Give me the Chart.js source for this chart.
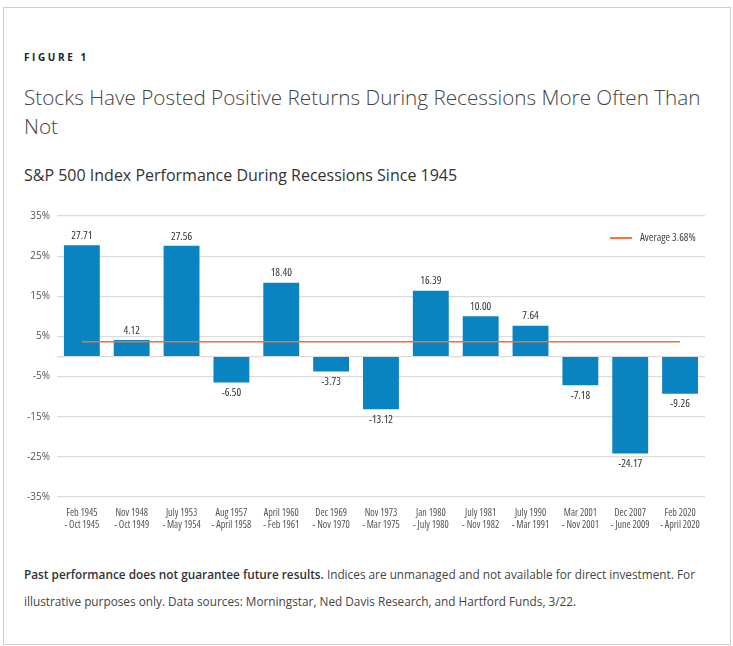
<!DOCTYPE html>
<html>
<head>
<meta charset="utf-8">
<script src="https://cdn.jsdelivr.net/npm/chart.js@4"></script>
<style>
  body { margin: 0; background: #fff; font-family: "Open Sans", sans-serif; color: #333; }
  .card { position: absolute; left: 3px; top: 7px; width: 726px; height: 636px; border: 1px solid #cfcfcf; }
  .fig { position: absolute; left: 24px; top: 50px; font-size: 10px; font-weight: 700; letter-spacing: 2.6px; color: #222; }
  .title { position: absolute; left: 24px; top: 83px; width: 692px; font-size: 20.7px; font-weight: 300; line-height: 29px; color: #444; }
  .sub { position: absolute; left: 24px; top: 164px; font-size: 16px; font-weight: 400; color: #333; }
  .chart { position: absolute; left: 20px; top: 203px; width: 685px; height: 330px; }
  .note { position: absolute; left: 24px; top: 561px; width: 695px; font-size: 11.8px; line-height: 27px; color: #444; }
  .note b { font-weight: 600; color: #333; }
</style>
</head>
<body>
<div class="card"></div>
<div class="fig">FIGURE 1</div>
<div class="title">Stocks Have Posted Positive Returns During Recessions More Often Than Not</div>
<div class="sub">S&amp;P 500 Index Performance During Recessions Since 1945</div>
<div class="chart"><canvas id="myChart"></canvas></div>
<div class="note"><b>Past performance does not guarantee future results.</b> Indices are unmanaged and not available for direct investment. For illustrative purposes only. Data sources: Morningstar, Ned Davis Research, and Hartford Funds, 3/22.</div>
<script>
const labels = [
    ['Feb 1945', '- Oct 1945'], ['Nov 1948', '- Oct 1949'], ['July 1953', '- May 1954'],
    ['Aug 1957', '- April 1958'], ['April 1960', '- Feb 1961'], ['Dec 1969', '- Nov 1970'],
    ['Nov 1973', '- Mar 1975'], ['Jan 1980', '- July 1980'], ['July 1981', '- Nov 1982'],
    ['July 1990', '- Mar 1991'], ['Mar 2001', '- Nov 2001'], ['Dec 2007', '- June 2009'],
    ['Feb 2020', '- April 2020']
];
const returns = [27.71, 4.12, 27.56, -6.50, 18.40, -3.73, -13.12, 16.39, 10.00, 7.64, -7.18, -24.17, -9.26];
const average = [3.68, 3.68, 3.68, 3.68, 3.68, 3.68, 3.68, 3.68, 3.68, 3.68, 3.68, 3.68, 3.68];
const yTicks = [-35, -25, -15, -5, 0, 5, 15, 25, 35];

const family = '"Open Sans", sans-serif';
const blue = '#0a84c0';
const orange = '#f0703a';

// etiquetas de valor e legenda desenhadas à mão
const extras = {
    id: 'extras',
    afterDatasetsDraw(chart) {
        const c = chart.ctx;
        const meta = chart.getDatasetMeta(1);
        c.save();
        c.font = '500 condensed 11px ' + family;
        c.fontStretch = 'condensed';
        c.fillStyle = '#333';
        c.textAlign = 'center';
        meta.data.forEach((bar, i) => {
            const v = returns[i];
            if (v >= 0) {
                c.textBaseline = 'bottom';
                c.fillText(v.toFixed(2), bar.x, bar.y - 4);
            } else {
                c.textBaseline = 'top';
                c.fillText(v.toFixed(2), bar.x, bar.y + 5);
            }
        });
        // legenda
        const area = chart.chartArea;
        const ly = chart.scales.y.getPixelForValue(29.5);
        c.strokeStyle = orange;
        c.lineWidth = 2;
        c.beginPath();
        c.moveTo(area.right - 95, ly);
        c.lineTo(area.right - 73, ly);
        c.stroke();
        c.textAlign = 'left';
        c.textBaseline = 'middle';
        c.fillStyle = '#444';
        c.fillText('Average 3.68%', area.right - 65, ly);
        c.restore();
    }
};

const ctx = document.getElementById('myChart').getContext('2d');
const myChart = new Chart(ctx, {
    data: {
        labels: labels,
        datasets: [{
            type: 'line',
            label: 'Average 3.68%',
            data: average,
            borderColor: orange,
            borderWidth: 1.5,
            pointRadius: 0,
            order: 0
        }, {
            type: 'bar',
            label: 'Return',
            data: returns,
            backgroundColor: blue,
            barPercentage: 0.72,
            categoryPercentage: 1,
            order: 1
        }]
    },
    options: {
        responsive: true,
        maintainAspectRatio: false,
        animation: false,
        layout: { padding: { top: 4, right: 0, bottom: 0, left: 0 } },
        scales: {
            y: {
                min: -35,
                max: 35,
                afterBuildTicks: (scale) => { scale.ticks = yTicks.map(v => ({ value: v })); },
                border: { display: false },
                grid: { color: '#dcdcdc', drawTicks: false, lineWidth: 1.2 },
                ticks: {
                    padding: 7,
                    color: '#555',
                    font: { family: family, size: 10 },
                    callback: (v) => v === 0 ? '' : v + '%'
                }
            },
            x: {
                border: { display: false },
                grid: { display: false },
                ticks: {
                    color: '#555',
                    font: { family: family, size: 10, weight: '400 condensed' },
                    maxRotation: 0,
                    autoSkip: false,
                    padding: 2
                }
            }
        },
        plugins: {
            legend: { display: false },
            tooltip: { enabled: false }
        }
    },
    plugins: [extras]
});
</script>
</body>
</html>
